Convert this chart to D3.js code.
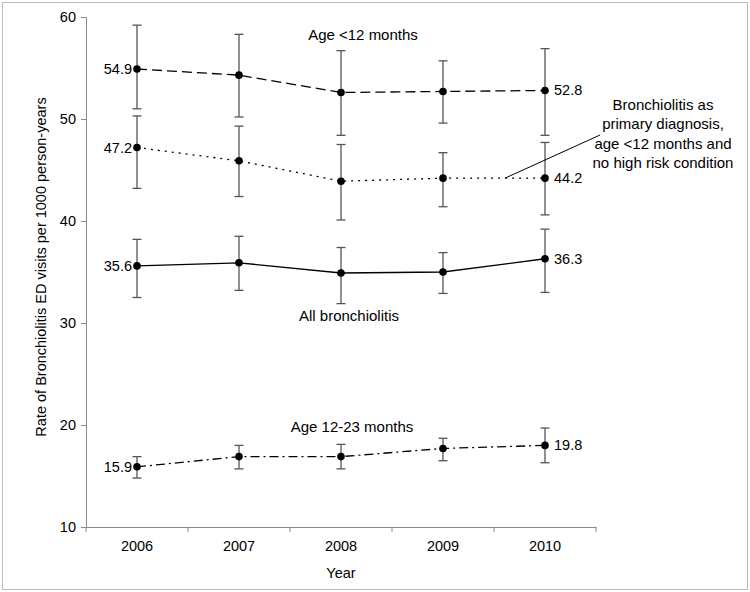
<!DOCTYPE html>
<html><head><meta charset="utf-8">
<script src="https://cdn.jsdelivr.net/npm/d3@7"></script>
<style>body{margin:0;background:#fff}text{font-family:"Liberation Sans",Arial,sans-serif;fill:#000}</style>
</head><body><svg id="c" width="750" height="592"></svg>
<script>
const years = ["2006","2007","2008","2009","2010"];
const yTicks = [10,20,30,40,50,60];

const under12 = [54.9, 54.3, 52.6, 52.7, 52.8];
const under12Lo = [51.0, 50.2, 48.4, 49.6, 48.4];
const under12Hi = [59.2, 58.3, 56.7, 55.7, 56.9];

const primary = [47.2, 45.9, 43.9, 44.2, 44.2];
const primaryLo = [43.2, 42.4, 40.1, 41.4, 40.6];
const primaryHi = [50.3, 49.3, 47.5, 46.7, 47.7];

const allBr = [35.6, 35.9, 34.9, 35.0, 36.3];
const allBrLo = [32.5, 33.2, 31.9, 32.9, 33.0];
const allBrHi = [38.2, 38.5, 37.4, 36.9, 39.2];

const age1223 = [15.9, 16.9, 16.9, 17.7, 18.0];
const age1223Lo = [14.8, 15.7, 15.7, 16.5, 16.3];
const age1223Hi = [16.9, 18.0, 18.1, 18.7, 19.7];

const firstLabels = ["54.9","47.2","35.6","15.9"];
const lastLabels = ["52.8","44.2","36.3","19.8"];

const svg = d3.select("#c");
svg.append("rect").attr("x",2.5).attr("y",2.5).attr("width",745).attr("height",587)
  .attr("fill","none").attr("stroke","#bbb");

const x = d3.scaleBand().domain(years).range([86,596]);
const y = d3.scaleLinear().domain([10,60]).range([527,17]);
const axisColor = "#888";
const fs = "14.5px";

const gy = svg.append("g").attr("transform","translate(86,0)")
  .call(d3.axisLeft(y).tickValues(yTicks).tickSize(5).tickPadding(5));
const gx = svg.append("g").attr("transform","translate(0,527)")
  .call(d3.axisBottom(x).tickSize(0).tickPadding(14));
svg.append("g").selectAll("line").data(years.concat(["end"])).join("line")
  .attr("x1",(d,i)=> i<years.length ? x(d) : x.range()[1])
  .attr("x2",(d,i)=> i<years.length ? x(d) : x.range()[1])
  .attr("y1",527).attr("y2",532).attr("stroke",axisColor);
[gy,gx].forEach(g=>{
  g.selectAll("path,line").attr("stroke",axisColor);
  g.selectAll("text").style("font-size",fs).style("font-family",'"Liberation Sans",Arial,sans-serif');
});

svg.append("text").attr("x",341).attr("y",578).attr("text-anchor","middle").style("font-size",fs).text("Year");
svg.append("text").attr("transform","translate(46,267) rotate(-90)").attr("text-anchor","middle")
  .style("font-size",fs).text("Rate of Bronchiolitis ED visits per 1000 person-years");

const series = [
  {v:under12, lo:under12Lo, hi:under12Hi, dash:"10,5"},
  {v:primary, lo:primaryLo, hi:primaryHi, dash:"2,5"},
  {v:allBr, lo:allBrLo, hi:allBrHi, dash:null},
  {v:age1223, lo:age1223Lo, hi:age1223Hi, dash:"9,4,2,4"}
];
const cx = d => x(d) + x.bandwidth()/2;
const line = d3.line().x(d=>cx(d.year)).y(d=>y(d.val));

series.forEach((s,si)=>{
  const pts = years.map((yr,i)=>({year:yr,val:s.v[i],lo:s.lo[i],hi:s.hi[i]}));
  const g = svg.append("g");
  g.selectAll("line.eb").data(pts).join("line").attr("class","eb")
    .attr("x1",d=>cx(d.year)).attr("x2",d=>cx(d.year))
    .attr("y1",d=>y(d.lo)).attr("y2",d=>y(d.hi)).attr("stroke","#555").attr("stroke-width",1.3);
  ["lo","hi"].forEach(k=>{
    g.selectAll("line.cap"+k).data(pts).join("line").attr("class","cap"+k)
      .attr("x1",d=>cx(d.year)-4.5).attr("x2",d=>cx(d.year)+4.5)
      .attr("y1",d=>y(d[k])).attr("y2",d=>y(d[k])).attr("stroke","#555").attr("stroke-width",1.3);
  });
  g.append("path").datum(pts).attr("d",line).attr("fill","none").attr("stroke","#000")
    .attr("stroke-width",1.3).attr("stroke-dasharray",s.dash);
  g.selectAll("circle").data(pts).join("circle").attr("cx",d=>cx(d.year)).attr("cy",d=>y(d.val))
    .attr("r",3.8).attr("fill","#000");
  g.append("text").attr("x",cx(years[0])-5).attr("y",y(s.v[0])+5).attr("text-anchor","end")
    .style("font-size",fs).text(firstLabels[si]);
  g.append("text").attr("x",cx(years[4])+9).attr("y",y(s.v[4])+5).attr("text-anchor","start")
    .style("font-size",fs).text(lastLabels[si]);
});

const fa = "15px";
svg.append("text").attr("x",363).attr("y",40).attr("text-anchor","middle").style("font-size",fa).text("Age <12 months");
svg.append("text").attr("x",349).attr("y",321).attr("text-anchor","middle").style("font-size",fa).text("All bronchiolitis");
svg.append("text").attr("x",352).attr("y",432).attr("text-anchor","middle").style("font-size",fa).text("Age 12-23 months");
const ann = ["Bronchiolitis as","primary diagnosis,","age <12 months and","no high risk condition"];
svg.append("text").attr("text-anchor","middle").style("font-size",fa)
  .selectAll("tspan").data(ann).join("tspan").attr("x",663).attr("y",(d,i)=>110+i*19.3).text(d=>d);
svg.append("line").attr("x1",x("2009")+x.bandwidth()/2+62).attr("y1",y(44.2))
  .attr("x2",600).attr("y2",135).attr("stroke","#000").attr("stroke-width",1);
</script></body></html>
